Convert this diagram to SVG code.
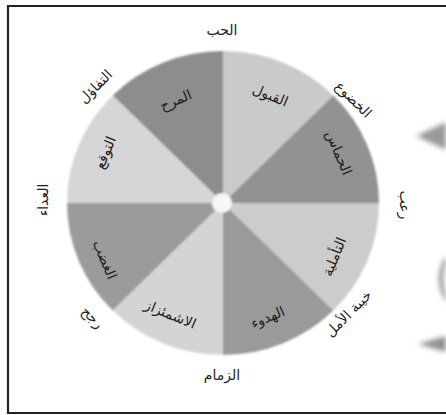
<svg xmlns="http://www.w3.org/2000/svg" width="446" height="415" viewBox="0 0 446 415">
<defs>
<style>
.lbl{font-family:"DejaVu Sans","Noto Sans",sans-serif;font-size:14px;fill:#1e1e1e;text-anchor:middle;dominant-baseline:middle}
</style>
<filter id="soft" x="-10%" y="-10%" width="120%" height="120%"><feGaussianBlur stdDeviation="1.2"/></filter>
<filter id="blur3" x="-50%" y="-50%" width="200%" height="200%"><feGaussianBlur stdDeviation="2.5"/></filter>
</defs>
<rect x="0" y="0" width="446" height="415" fill="#ffffff"/>
<path d="M450 6 H8 V413 H450" fill="none" stroke="#222" stroke-width="2.2"/>
<g id="side-shapes" filter="url(#blur3)">
<polygon points="416,136 446,122 446,150" fill="#9a9a9a"/>
<path d="M446 256 Q432 278 446 302 L446 296 Q440 278 446 262 Z" fill="#8a8a8a"/>
<polygon points="418,344 446,336 446,352" fill="#8f8f8f"/>
</g>
<g id="wheel" filter="url(#soft)">
<g id="w-joy"><path d="M223 203 L223 51 A156 152 0 0 0 112.7 95.5 Z" fill="#8d8d8d"/></g>
<g id="w-trust"><path d="M223 203 L223 51 A156 152 0 0 1 333.3 95.5 Z" fill="#cacaca"/></g>
<g id="w-fear"><path d="M223 203 L333.3 95.5 A156 152 0 0 1 379 203 Z" fill="#929292"/></g>
<g id="w-surprise"><path d="M223 203 L379 203 A156 152 0 0 1 333.3 310.5 Z" fill="#cccccc"/></g>
<g id="w-sadness"><path d="M223 203 L333.3 310.5 A156 152 0 0 1 223 355 Z" fill="#9a9a9a"/></g>
<g id="w-disgust"><path d="M223 203 L223 355 A156 152 0 0 1 112.7 310.5 Z" fill="#d4d4d4"/></g>
<g id="w-anger"><path d="M223 203 L112.7 310.5 A156 152 0 0 1 67 203 Z" fill="#9b9b9b"/></g>
<g id="w-anticipation"><path d="M223 203 L67 203 A156 152 0 0 1 112.7 95.5 Z" fill="#d6d6d6"/></g>
<g id="hub"><circle cx="222" cy="203" r="10" fill="#f7f7f7"/></g>
</g>
<g id="connectors"></g>
<g id="inner-labels">
<g id="l-joy"><text class="lbl" transform="translate(176,101) rotate(-22.5)">المرح</text></g>
<g id="l-trust"><text class="lbl" transform="translate(270,96) rotate(22.5)">القبول</text></g>
<g id="l-fear"><text class="lbl" transform="translate(338,153) rotate(67.5)">الحماس</text></g>
<g id="l-surprise"><text class="lbl" transform="translate(335,257) rotate(-67.5)">التأملية</text></g>
<g id="l-sadness"><text class="lbl" transform="translate(268,318) rotate(-22.5)">الهدوء</text></g>
<g id="l-disgust"><text class="lbl" transform="translate(170,315) rotate(22.5)">الاشمئزاز</text></g>
<g id="l-anger"><text class="lbl" transform="translate(104,260) rotate(67.5)">الغضب</text></g>
<g id="l-anticipation"><text class="lbl" transform="translate(106,153) rotate(-67.5)">التوقع</text></g>
</g>
<g id="outer-labels">
<g id="o-love"><text class="lbl" transform="translate(222,31)">الحب</text></g>
<g id="o-submission"><text class="lbl" transform="translate(353,100) rotate(45)">الخضوع</text></g>
<g id="o-awe"><text class="lbl" transform="translate(404,205) rotate(90)">رعب</text></g>
<g id="o-disappointment"><text class="lbl" transform="translate(349,314) rotate(-45)">خيبة الأمل</text></g>
<g id="o-remorse"><text class="lbl" transform="translate(222,376)">الزمام</text></g>
<g id="o-contempt"><text class="lbl" transform="translate(92,318) rotate(45)">رجح</text></g>
<g id="o-aggression"><text class="lbl" transform="translate(44,200) rotate(-90)">العداء</text></g>
<g id="o-optimism"><text class="lbl" transform="translate(96,87) rotate(-45)">التفاؤل</text></g>
</g>
</svg>
